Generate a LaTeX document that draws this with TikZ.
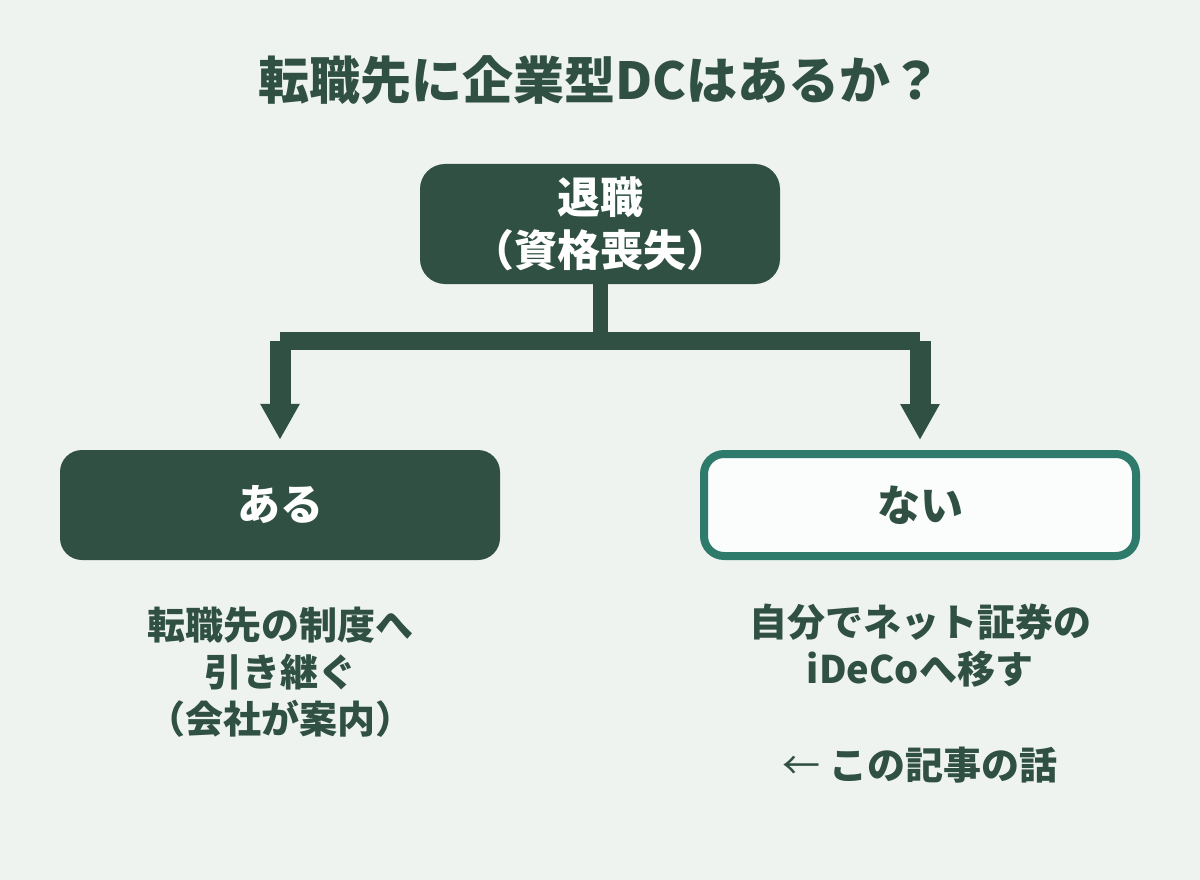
\documentclass[tikz,border=0pt]{standalone}
\usepackage{fontspec}
\setmainfont{Noto Sans CJK JP}
\usetikzlibrary{arrows.meta,positioning}
\definecolor{DCBack}{HTML}{EEF3EF}
\definecolor{DCGreen}{HTML}{2F5042}
\definecolor{DCTeal}{HTML}{2E7B6B}
\definecolor{DCWhite}{HTML}{FAFDFC}

\begin{document}
\begin{tikzpicture}[
      x=1pt,y=-1pt,
      heading/.style={text=DCGreen,font=\fontsize{51}{58}\selectfont\bfseries},
      darkbox/.style={rounded corners=22pt,fill=DCGreen,text=white,align=center,
        font=\fontsize{43}{53}\selectfont\bfseries},
      lightbox/.style={rounded corners=20pt,draw=DCTeal,line width=8pt,fill=DCWhite,
        text=DCGreen,font=\fontsize{43}{53}\selectfont\bfseries},
      note/.style={align=center,text=DCGreen,font=\fontsize{38}{47}\selectfont\bfseries},
      trunk/.style={draw=DCGreen,line width=15pt},
      bar/.style={draw=DCGreen,line width=18pt},
      branch/.style={-{Triangle[length=36pt,width=37pt]},draw=DCGreen,
        line width=21pt,shorten >=10pt}
    ]
      \fill[DCBack] (0,0) rectangle (1200,880);

      \node[heading] (title) at (600,80) {転職先に企業型DCはあるか？};

      \node[darkbox,minimum width=360pt,minimum height=120pt,rounded corners=25pt]
        (exit) at (600,224) {退職\\（資格喪失）};
      \node[darkbox,minimum width=440pt,minimum height=110pt] (yes) at (280,505) {ある};
      \node[lightbox,minimum width=432pt,minimum height=102pt] (no) at (920,505) {ない};

      \coordinate (split) at (600,341);
      \draw[trunk] (exit.south) -- (split);
      \draw[bar] (yes.north |- split) -- (no.north |- split);
      \draw[branch] (yes.north |- split) -- (yes.north);
      \draw[branch] (no.north |- split) -- (no.north);

      \node[note] (yesnote) at (280,672) {転職先の制度へ\\引き継ぐ\\（会社が案内）};
      \node[note] (nonote) at (920,646) {自分でネット証券の\\iDeCoへ移す};
      \node[note] (here) at (920,765) {{\mdseries ←} この記事の話};
    \end{tikzpicture}
\end{document}
